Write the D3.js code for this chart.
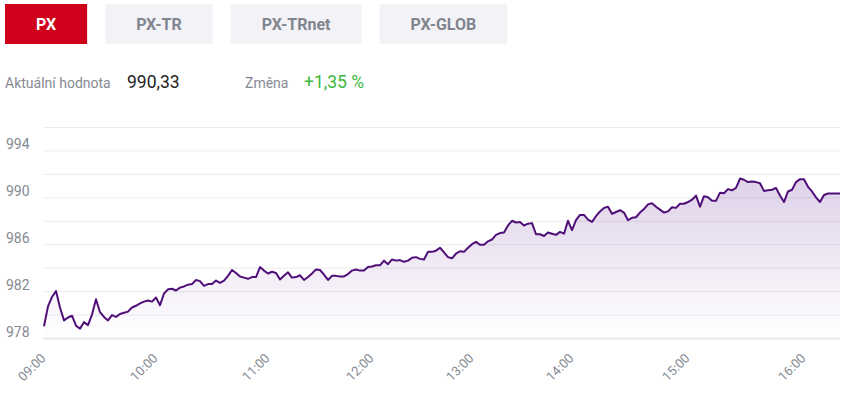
<!DOCTYPE html>
<html>
<head>
<meta charset="utf-8">
<script src="https://cdn.jsdelivr.net/npm/d3@7"></script>
<style>
    body { margin: 0; background: #fff; font-family: Roboto, 'Noto Sans', sans-serif; }
    #chart { width: 845px; height: 397px; }
</style>
</head>
<body>
<div id="chart"></div>
<script>
/* global d3 */

const tabs = ['PX', 'PX-TR', 'PX-TRnet', 'PX-GLOB']
const activeTab = 'PX'
const valueLabel = 'Aktuální hodnota'
const currentValue = '990,33'
const changeLabel = 'Změna'
const changeValue = '+1,35 %'

const hourLabels = ['09:00', '10:00', '11:00', '12:00', '13:00', '14:00', '15:00', '16:00']
// index of the first point of each hour (ordinal axis, points are equally spaced)
const hourIndex = [0, 28, 56, 82, 107, 132, 161, 190]

const gridTicks = [978, 980, 982, 984, 986, 988, 990, 992, 994, 996]
const labelTicks = [978, 982, 986, 990, 994]

const values = [
    979.0, 980.7, 981.5, 982.0, 980.6, 979.5, 979.75, 979.9, 979.05, 978.8,
    979.35, 979.1, 980.0, 981.3, 980.2, 979.8, 979.5, 979.95, 979.8, 980.05,
    980.15, 980.25, 980.6, 980.75, 980.95, 981.1, 981.2, 981.1, 981.45, 980.8,
    981.8, 982.15, 982.2, 982.05, 982.3, 982.4, 982.55, 982.6, 982.95, 982.85,
    982.45, 982.6, 982.6, 982.9, 982.7, 982.9, 983.3, 983.8, 983.55, 983.25,
    983.15, 983.05, 983.2, 983.2, 984.05, 983.75, 983.5, 983.65, 983.55, 983.0,
    983.3, 983.6, 983.15, 983.2, 983.35, 982.95, 983.2, 983.5, 983.85, 983.8,
    983.4, 982.95, 983.3, 983.3, 983.25, 983.25, 983.45, 983.75, 983.85, 983.75,
    983.75, 984.05, 984.1, 984.2, 984.2, 984.6, 984.3, 984.7, 984.6, 984.65,
    984.5, 984.6, 984.85, 984.9, 984.75, 984.7, 985.35, 985.35, 985.45, 985.7,
    985.3, 984.9, 984.8, 985.2, 985.4, 985.35, 985.7, 986.0, 986.2, 985.95,
    985.95, 986.25, 986.4, 986.8, 986.95, 987.0, 987.6, 988.0, 987.85, 987.9,
    987.6, 987.75, 987.8, 986.85, 986.85, 986.7, 987.0, 986.9, 986.8, 987.05,
    986.9, 988.0, 987.2, 988.05, 988.5, 988.5, 988.1, 987.9, 988.4, 988.8,
    989.1, 989.2, 988.6, 988.75, 988.9, 988.7, 988.05, 988.25, 988.3, 988.7,
    989.0, 989.4, 989.5, 989.2, 988.95, 988.7, 988.8, 989.15, 989.1, 989.45,
    989.45, 989.6, 989.8, 990.15, 989.2, 990.1, 990.0, 989.7, 989.7, 990.4,
    990.35, 990.7, 990.6, 990.8, 991.6, 991.5, 991.3, 991.35, 991.3, 991.2,
    990.55, 990.6, 990.65, 990.8, 990.15, 989.6, 990.5, 990.65, 991.3, 991.55,
    991.55, 990.9, 990.5, 990.0, 989.6, 990.2, 990.33, 990.33, 990.33, 990.33
]

let DrawIndex = function (id) {
    this.id = id
    this.svgWidth = 845
    this.svgHeight = 397
    this.plot = { left: 44, right: 840, top: 127, bottom: 338 }

    this.svg = d3.select('#' + id).append('svg')
        .attr('width', this.svgWidth)
        .attr('height', this.svgHeight)
        .style('display', 'block')

    this.lineColor = '#4f0e78'
    this.textGray = '#858a93'
}

DrawIndex.prototype.header = function () {
    // tabs, width follows the label
    let tabG = this.svg.append('g').attr('class', 'tabs')
    let xPos = 5
    tabs.forEach((tab) => {
        let g = tabG.append('g').attr('transform', 'translate(' + xPos + ',4)')
        let rect = g.append('rect')
            .attr('height', 40)
            .style('fill', tab === activeTab ? '#d0021b' : '#f3f3f7')
        let text = g.append('text')
            .attr('y', 25.5)
            .attr('text-anchor', 'middle')
            .style('font-size', '16px')
            .style('font-weight', 'bold')
            .style('fill', tab === activeTab ? '#ffffff' : '#80858f')
            .text(tab)
        let w = text.node().getComputedTextLength() + 62
        rect.attr('width', w)
        text.attr('x', w / 2)
        xPos += w + 18
    })

    let info = this.svg.append('g').attr('class', 'info')
    info.append('text').attr('x', 5).attr('y', 88)
        .style('font-size', '14px').style('fill', this.textGray)
        .text(valueLabel)
    info.append('text').attr('x', 127).attr('y', 88)
        .style('font-size', '17.5px').style('fill', '#222')
        .text(currentValue)
    info.append('text').attr('x', 245).attr('y', 88)
        .style('font-size', '14px').style('fill', this.textGray)
        .text(changeLabel)
    info.append('text').attr('x', 304).attr('y', 88)
        .style('font-size', '17.5px').style('fill', '#3cb93c')
        .text(changeValue)
}

DrawIndex.prototype.layout = function () {
    let xScale = d3.scaleLinear()
        .domain([0, values.length - 1])
        .range([this.plot.left, this.plot.right])

    let yScale = d3.scaleLinear()
        .domain([978, 996])
        .range([this.plot.bottom, this.plot.top])

    let defs = this.svg.append('defs')
    let grad = defs.append('linearGradient')
        .attr('id', 'areaGrad')
        .attr('gradientUnits', 'userSpaceOnUse')
        .attr('x1', 0).attr('x2', 0)
        .attr('y1', yScale(d3.max(values)))
        .attr('y2', yScale(978))
    grad.append('stop').attr('offset', 0).attr('stop-color', '#5a1a8c').attr('stop-opacity', 0.2)
    grad.append('stop').attr('offset', 1).attr('stop-color', '#5a1a8c').attr('stop-opacity', 0)

    // grid
    let grid = this.svg.append('g').attr('class', 'grid')
    grid.selectAll('line')
        .data(gridTicks)
        .enter()
        .append('line')
        .attr('x1', this.plot.left - 1)
        .attr('x2', this.plot.right)
        .attr('y1', (d) => yScale(d) + 0.5)
        .attr('y2', (d) => yScale(d) + 0.5)
        .style('stroke', (d) => d === 978 ? '#e8e8ef' : '#ececec')
        .style('stroke-width', (d) => d === 978 ? 2 : 1)

    // y labels
    this.svg.append('g').attr('class', 'y-axis')
        .selectAll('text')
        .data(labelTicks)
        .enter()
        .append('text')
        .attr('x', 6)
        .attr('y', (d) => yScale(d) - 1)
        .style('font-size', '14px')
        .style('fill', this.textGray)
        .text((d) => d)

    // x labels
    this.svg.append('g').attr('class', 'x-axis')
        .selectAll('text')
        .data(hourIndex)
        .enter()
        .append('text')
        .attr('transform', (d) => 'translate(' + (xScale(d) + 2.5) + ',' + (this.plot.bottom + 21) + ') rotate(-45)')
        .attr('text-anchor', 'end')
        .style('font-size', '13px')
        .style('fill', this.textGray)
        .text((d, i) => hourLabels[i])

    let area = d3.area()
        .x((d, i) => xScale(i))
        .y0(yScale(978))
        .y1((d) => yScale(d))

    let line = d3.line()
        .x((d, i) => xScale(i))
        .y((d) => yScale(d))

    this.svg.append('path')
        .datum(values)
        .attr('d', area)
        .style('fill', 'url(#areaGrad)')

    this.svg.append('path')
        .datum(values)
        .attr('d', line)
        .style('fill', 'none')
        .style('stroke', this.lineColor)
        .style('stroke-width', 2)
        .style('stroke-linejoin', 'round')
}

let chart = new DrawIndex('chart')
chart.header()
chart.layout()
</script>
</body>
</html>
